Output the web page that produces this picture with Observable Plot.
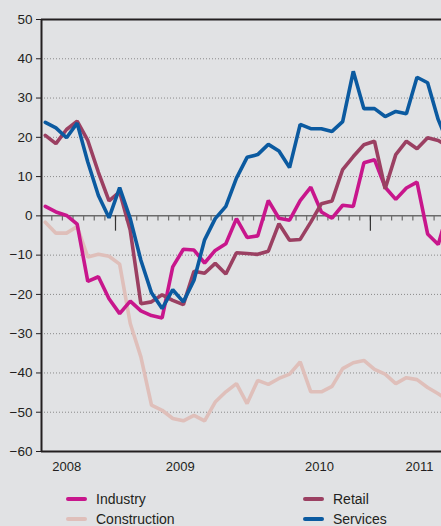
<!DOCTYPE html>
<html><head><meta charset="utf-8">
<script src="https://cdn.jsdelivr.net/npm/d3@7"></script>
<script src="https://cdn.jsdelivr.net/npm/@observablehq/plot@0.6"></script>
<style>
body{margin:0;background:#e1e2e4;width:441px;height:526px;overflow:hidden;font-family:"Liberation Sans",Arial,sans-serif;}
#chart svg{display:block;overflow:hidden;}
#legend{position:relative;height:44px;}
.item{position:absolute;display:flex;align-items:center;font-size:14px;line-height:16px;color:#231f20;}
.sw{width:21px;height:4px;border-radius:2px;margin-right:9px;}
</style></head><body>
<div id="chart"></div>
<div id="legend"></div>
<script>
// monthly observations (index 0 = first month shown)
const industry = [2.4, 1.0, 0.1, -2.1, -16.7, -15.5, -21.1, -24.9, -21.7, -24.2, -25.4, -26.0, -13.0, -8.5, -8.7, -12.0, -8.8, -7.1, -0.7, -5.5, -5.1, 3.9, -0.6, -1.1, 3.9, 7.3, 1.0, -0.6, 2.7, 2.4, 13.5, 14.3, 7.3, 4.2, 7.1, 8.6, -4.6, -7.3, 2.0];
const retail = [20.5, 18.4, 22.0, 24.1, 19.2, 11.1, 3.8, 6.1, -3.7, -22.4, -21.9, -20.1, -21.5, -22.6, -14.1, -14.6, -12.1, -14.8, -9.4, -9.6, -9.8, -9.0, -2.0, -6.2, -6.0, -1.6, 3.1, 3.8, 11.8, 15.1, 18.1, 19.0, 6.9, 15.6, 19.0, 17.1, 19.9, 19.2, 17.5];
const construction = [-1.6, -4.4, -4.4, -2.7, -10.5, -9.8, -10.3, -12.3, -27.4, -35.9, -48.2, -49.5, -51.6, -52.2, -50.8, -52.2, -47.4, -44.8, -42.7, -47.8, -41.9, -42.9, -41.4, -40.3, -37.2, -44.8, -44.8, -43.4, -38.9, -37.4, -36.8, -39.1, -40.3, -42.7, -41.2, -41.7, -43.7, -45.3, -47.0];
const services = [23.8, 22.4, 19.9, 23.6, 13.7, 5.2, -0.5, 7.2, -0.7, -11.3, -19.6, -23.6, -18.8, -21.9, -16.4, -6.1, -0.7, 2.4, 9.6, 14.9, 15.6, 18.2, 16.5, 12.3, 23.3, 22.2, 22.2, 21.5, 24.0, 36.8, 27.3, 27.3, 25.3, 26.6, 26.0, 35.3, 33.9, 24.5, 18.0];

const seriesNames = ["Construction", "Industry", "Retail", "Services"];
const seriesColors = ["#dfbfba", "#c8168c", "#9b4062", "#0b5aa0"];
const seriesValues = [construction, industry, retail, services];

const yTicks = [-60, -50, -40, -30, -20, -10, 0, 10, 20, 30, 40, 50];
const gridTicks = [-50, -40, -30, -20, -10, 10, 20, 30, 40];
const yearLabels = ["2008", "2009", "2010", "2011"];
const yearPos = [2.02, 12.7, 25.82, 35.24];   // month-index positions of the year labels
const monthTicks = d3.range(37).map(k => k + 0.61);
const longTicks = [6.61, 30.61];

const rows = [];
seriesNames.forEach((name, s) => seriesValues[s].forEach((v, i) => rows.push({month: i, value: v, series: name})));

const x0 = -0.358, x1 = 37.307;

const chart = Plot.plot({
  width: 441,
  height: 482,
  marginLeft: 41,
  marginRight: 0,
  marginTop: 19,
  marginBottom: 31,
  style: {background: "#e1e2e4", fontFamily: "'Liberation Sans', Arial, sans-serif", fontSize: "14px", color: "#231f20"},
  x: {domain: [x0, x1], axis: null, label: null},
  y: {domain: [-60, 50], axis: null, label: null},
  color: {domain: seriesNames, range: seriesColors},
  marks: [
    Plot.gridY(gridTicks, {stroke: "#8a8a8a", strokeOpacity: 1, strokeWidth: 1, strokeDasharray: "1,2"}),
    Plot.ruleY([0], {stroke: "#6b6b6b", strokeWidth: 1.5}),
    Plot.ruleX(monthTicks, {x: d => d, y1: 0, y2: -1.3, stroke: "#6b6b6b", strokeWidth: 1.2}),
    Plot.ruleX(longTicks, {x: d => d, y1: 0, y2: -3.9, stroke: "#333", strokeWidth: 1.2}),
    Plot.line(rows, {x: "month", y: "value", z: "series", stroke: "series", strokeWidth: 3.6, strokeLinejoin: "miter", clip: true}),
    Plot.ruleY([50, -60], {stroke: "#231f20", strokeWidth: 2}),
    Plot.ruleX([x0], {y1: -60, y2: 50, stroke: "#231f20", strokeWidth: 2}),
    Plot.axisY(yTicks, {label: null, tickSize: 5, tickPadding: 4, fontSize: 13.5, stroke: "#231f20", color: "#231f20"}),
    Plot.axisX(yearPos, {label: null, tickSize: 0, tickPadding: 10, fontSize: 13, fontFamily: "'Liberation Sans Narrow', 'Liberation Sans', Arial, sans-serif", tickFormat: d => yearLabels[yearPos.indexOf(d)], color: "#231f20"})
  ]
});
document.getElementById("chart").appendChild(chart);

// legend
const legendOrder = ["Industry", "Retail", "Construction", "Services"];
const legendPos = [[66, 9], [303, 9], [66, 29], [303, 29]];
const legend = document.getElementById("legend");
legendOrder.forEach((name, i) => {
  const d = document.createElement("div");
  d.className = "item";
  d.style.left = legendPos[i][0] + "px";
  d.style.top = legendPos[i][1] + "px";
  const sw = document.createElement("span");
  sw.className = "sw";
  sw.style.background = seriesColors[seriesNames.indexOf(name)];
  const t = document.createElement("span");
  t.textContent = name;
  d.appendChild(sw); d.appendChild(t);
  legend.appendChild(d);
});
</script>
</body></html>
